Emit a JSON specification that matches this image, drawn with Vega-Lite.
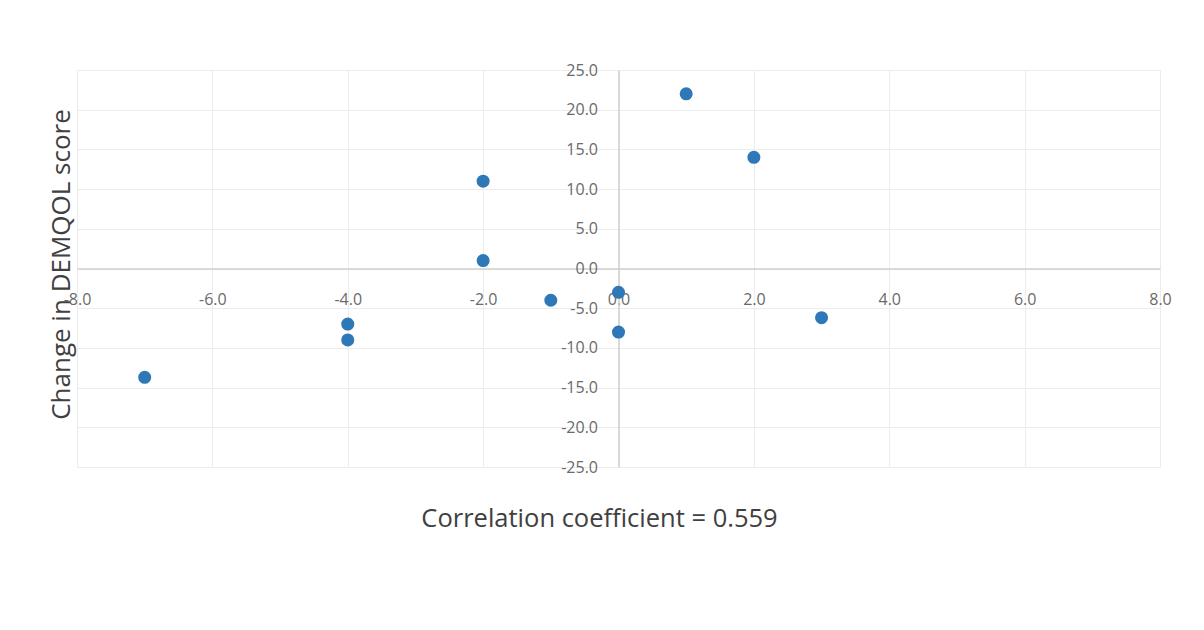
{
  "$schema": "https://vega.github.io/schema/vega-lite/v6.json",
  "width": 1083,
  "height": 397,
  "autosize": "none",
  "padding": {"left": 77, "top": 70, "right": 44, "bottom": 163},
  "background": "white",
  "config": {"view": {"stroke": null}, "font": "Open Sans"},
  "data": {"values": [
    {"x": -7, "y": -13.7},
    {"x": -4, "y": -7},
    {"x": -4, "y": -9},
    {"x": -2, "y": 11},
    {"x": -2, "y": 1},
    {"x": -1, "y": -4},
    {"x": 0, "y": -3},
    {"x": 0, "y": -8},
    {"x": 1, "y": 22},
    {"x": 2, "y": 14},
    {"x": 3, "y": -6.2}
  ]},
  "mark": {"type": "circle", "size": 170, "opacity": 1, "color": "#2e78b7"},
  "encoding": {
    "x": {
      "field": "x", "type": "quantitative",
      "scale": {"domain": [-8, 8], "nice": false, "zero": false},
      "axis": {
        "title": "Correlation coefficient = 0.559",
        "values": [-8, -6, -4, -2, 0, 2, 4, 6, 8],
        "format": ".1f",
        "labelExpr": "replace(datum.label, '\u2212', '-')",
        "offset": -198.5,
        "ticks": false,
        "domainColor": "#cfcfcf",
        "domainWidth": 1.5,
        "gridColor": "#ececec",
        "labelFlush": false,
        "labelOverlap": false,
        "labelPadding": 23,
        "labelFontSize": 16,
        "labelColor": "#6a6a6a",
        "titleFontSize": 25.5,
        "titleFontWeight": "normal",
        "titleColor": "#404040",
        "titleX": 522,
        "titleY": 250,
        "titleBaseline": "middle"
      }
    },
    "y": {
      "field": "y", "type": "quantitative",
      "scale": {"domain": [-25, 25], "nice": false, "zero": false},
      "axis": {
        "title": "Change in DEMQOL score",
        "values": [-25, -20, -15, -10, -5, 0, 5, 10, 15, 20, 25],
        "format": ".1f",
        "labelExpr": "replace(datum.label, '\u2212', '-')",
        "offset": -541.5,
        "ticks": false,
        "domainColor": "#cfcfcf",
        "domainWidth": 1.5,
        "gridColor": "#ececec",
        "labelFlush": false,
        "labelOverlap": false,
        "labelPadding": 21,
        "labelFontSize": 16,
        "labelColor": "#6a6a6a",
        "titleFontSize": 26,
        "titleFontWeight": "normal",
        "titleColor": "#404040",
        "titleX": -557,
        "titleY": 194,
        "titleBaseline": "middle"
      }
    }
  }
}
